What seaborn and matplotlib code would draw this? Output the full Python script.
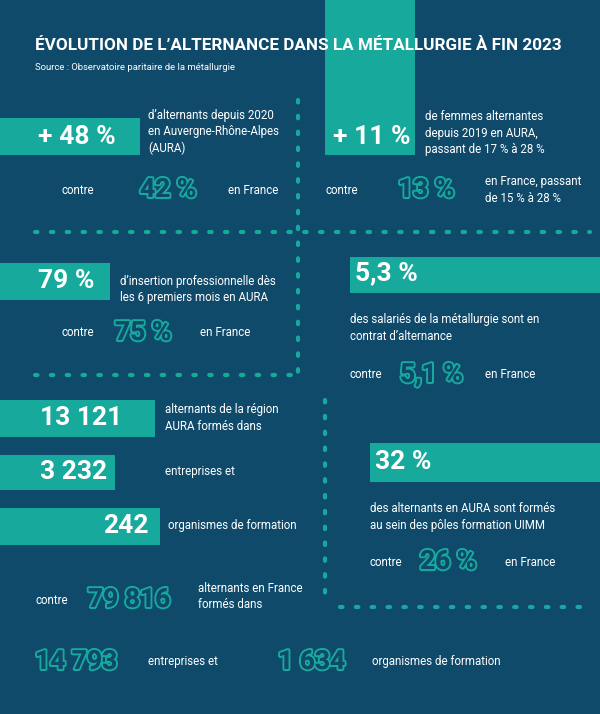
import matplotlib
matplotlib.use("Agg")
import matplotlib.pyplot as plt
import matplotlib.patheffects as pe
import seaborn as sns

sns.set_style("white")
plt.rcParams['font.family'] = ['Roboto', 'DejaVu Sans']

BG = "#0f4a6b"
TEAL = "#17a99b"

title = "ÉVOLUTION DE L’ALTERNANCE DANS LA MÉTALLURGIE À FIN 2023"
source = "Source : Observatoire paritaire de la métallurgie"

bar_values = ["+ 48 %", "+ 11 %", "79 %", "5,3 %", "13 121", "3 232", "242", "32 %"]
bar_texts = ["d’alternants depuis 2020\nen Auvergne-Rhône-Alpes\n(AURA)",
             "de femmes alternantes\ndepuis 2019 en AURA,\npassant de 17 % à 28 %",
             "d’insertion professionnelle dès\nles 6 premiers mois en AURA",
             "des salariés de la métallurgie sont en\ncontrat d’alternance",
             "alternants de la région\nAURA formés dans",
             "entreprises et",
             "organismes de formation",
             "des alternants en AURA sont formés\nau sein des pôles formation UIMM"]
fr_values = ["42 %", "13 %", "75 %", "5,1 %", "26 %", "79 816", "14 793", "1 634"]
fr_texts = ["en France", "en France, passant\nde 15 % à 28 %", "en France", "en France",
            "en France", "alternants en France\nformés dans", "entreprises et",
            "organismes de formation"]

fig = plt.figure(figsize=(6, 7.14), dpi=100)
fig.patch.set_facecolor(BG)
ax = fig.add_axes([0, 0, 1, 1])
ax.set_xlim(0, 600); ax.set_ylim(714, 0); ax.axis("off")
ax.set_facecolor(BG)

bars = [(136, 37, 0, 140), (77, 155, 325, 90), (281, 37, 0, 110), (275, 36, 350, 250),
        (418, 37, 0, 155), (472, 35, 0, 115), (526, 37, 0, 160), (462, 39, 370, 230)]
for (yc, h, l, w) in bars:
    ax.barh(yc, w, height=h, left=l, color=TEAL, edgecolor="none", linewidth=0)

ax.text(35, 45, title, color="white", fontsize=12.3, fontweight="bold", va="center")
ax.text(35, 68, source, color="white", fontsize=6.8, va="center")

dot = dict(color=TEAL, lw=3, linestyle=(0, (0.6, 3.2)), dash_capstyle="round")
ax.plot([35, 590], [232, 232], **dot)
ax.plot([298, 298], [100, 380], **dot)
ax.plot([35, 298], [375, 375], **dot)
ax.plot([325, 325], [400, 605], **dot)
ax.plot([340, 590], [607, 607], **dot)

big = dict(fontsize=19, fontweight="bold", va="center", color="white")
bv_pos = [(38, 137), (333, 137), (38, 281), (355, 273), (40, 418), (40, 472), (103, 526), (375, 462)]
bt_pos = [(148, 132), (425, 133), (120, 289), (350, 328), (165, 418), (165, 472), (168, 526), (370, 517)]
for v, t, (x, y), (tx, ty) in zip(bar_values, bar_texts, bv_pos, bt_pos):
    ax.text(x, y, v, **big)
    ax.text(tx, ty, t, color="white", fontsize=8.3, va="center", linespacing=1.3)

outline = dict(fontsize=19, fontweight="bold", va="center", color=BG,
               path_effects=[pe.withStroke(linewidth=3, foreground=TEAL),
                             pe.Normal()])
contre_pos = [(62, 190), (325, 190), (62, 333), (350, 375), (370, 562), (35, 600), None, None]
fv_pos = [(140, 190), (398, 190), (115, 333), (400, 375), (420, 562), (88, 600), (35, 662), (278, 662)]
ft_pos = [(228, 190), (485, 190), (200, 333), (485, 375), (505, 562), (198, 597), (148, 662), (372, 662)]
for v, t, c, (x, y), (tx, ty) in zip(fr_values, fr_texts, contre_pos, fv_pos, ft_pos):
    if c:
        ax.text(c[0], c[1], "contre", color="white", fontsize=8.3, va="center")
    ax.text(x, y, v, **outline)
    ax.text(tx, ty, t, color="white", fontsize=8.3, va="center", linespacing=1.3)

fig.savefig("out.png", dpi=100, facecolor=BG)
